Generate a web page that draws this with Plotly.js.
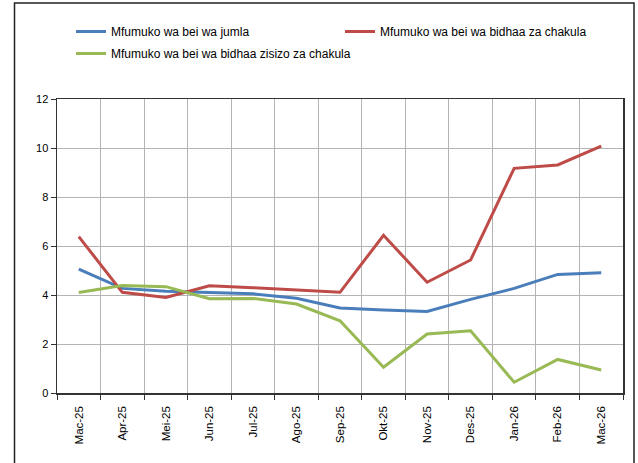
<!DOCTYPE html>
<html><head><meta charset="utf-8">
<script src="https://cdn.plot.ly/plotly-3.0.1.min.js"></script>
<style>html,body{margin:0;padding:0;background:#fff}#c{width:638px;height:463px}</style>
</head><body><div id="c"></div>
<script>
const months = ["Mac-25","Apr-25","Mei-25","Jun-25","Jul-25","Ago-25","Sep-25","Okt-25","Nov-25","Des-25","Jan-26","Feb-26","Mac-26"];
const jumla = [5.06,4.27,4.15,4.10,4.05,3.87,3.47,3.39,3.33,3.82,4.27,4.84,4.91];
const chakula = [6.38,4.11,3.90,4.38,4.30,4.20,4.11,6.44,4.52,5.43,9.17,9.31,10.08];
const zisizo = [4.10,4.39,4.34,3.85,3.86,3.63,2.95,1.05,2.41,2.54,0.44,1.37,0.94];
const names = ["Mfumuko wa bei wa jumla","Mfumuko wa bei wa bidhaa za chakula","Mfumuko wa bei wa bidhaa zisizo za chakula"];
const yTicks = [0,2,4,6,8,10,12];

const font = "'Liberation Sans Narrow','Arial Narrow','Liberation Sans',Arial,sans-serif";
const mk = (y,name,color,lg,grp)=>({x:months,y:y,name:name,type:'scatter',mode:'lines',
  line:{color:color,width:3},legend:lg,legendgroup:grp});
const data = [mk(jumla,names[0],'#4a7ebb','legend','a'), mk(chakula,names[1],'#be4b48','legend2','b'), mk(zisizo,names[2],'#98b954','legend','c')];

const W=566,H=294,L=57,T=99;
const px=(x)=>(x-L)/W, py=(y)=>1-(y-T)/H;
const legFont={family:font,size:12,color:'#000'};
const layout = {
  width:638,height:463,
  margin:{l:L,r:638-L-W,t:T,b:463-T-H},
  paper_bgcolor:'#fff',plot_bgcolor:'#fff',
  font:{family:font,size:11,color:'#000'},
  showlegend:true,
  legend:{orientation:'v',x:px(71),xanchor:'left',y:py(17),yanchor:'top',itemwidth:30,
    font:legFont,traceorder:'grouped',tracegroupgap:3,bgcolor:'rgba(0,0,0,0)'},
  legend2:{orientation:'v',x:px(340),xanchor:'left',y:py(17),yanchor:'top',itemwidth:30,
    font:legFont,bgcolor:'rgba(0,0,0,0)'},
  xaxis:{type:'category',tickmode:'array',tickvals:months,ticktext:months,tickangle:-90,
    showgrid:true,gridcolor:'#b3b3b3',gridwidth:1,
    showline:true,linecolor:'#333',linewidth:1.5,mirror:true,ticks:'outside',ticklen:5,tickcolor:'#333',
    tickson:'boundaries',range:[-0.5,12.5],ticklabelstandoff:7,tickfont:{family:font,size:11.5}},
  yaxis:{range:[0,12],tickvals:yTicks,showgrid:true,gridcolor:'#b3b3b3',gridwidth:1,
    showline:true,linecolor:'#333',linewidth:1.5,mirror:true,ticks:'outside',ticklen:5,tickcolor:'#333',
    zeroline:false,tickfont:{family:font,size:11}},
  shapes:[{type:'rect',xref:'paper',yref:'paper',x0:px(14.5),x1:px(634),y0:py(475),y1:py(3),
    line:{color:'#222',width:1.5},fillcolor:'rgba(0,0,0,0)'}]
};
Plotly.newPlot('c',data,layout,{displayModeBar:false,staticPlot:true});
</script></body></html>
